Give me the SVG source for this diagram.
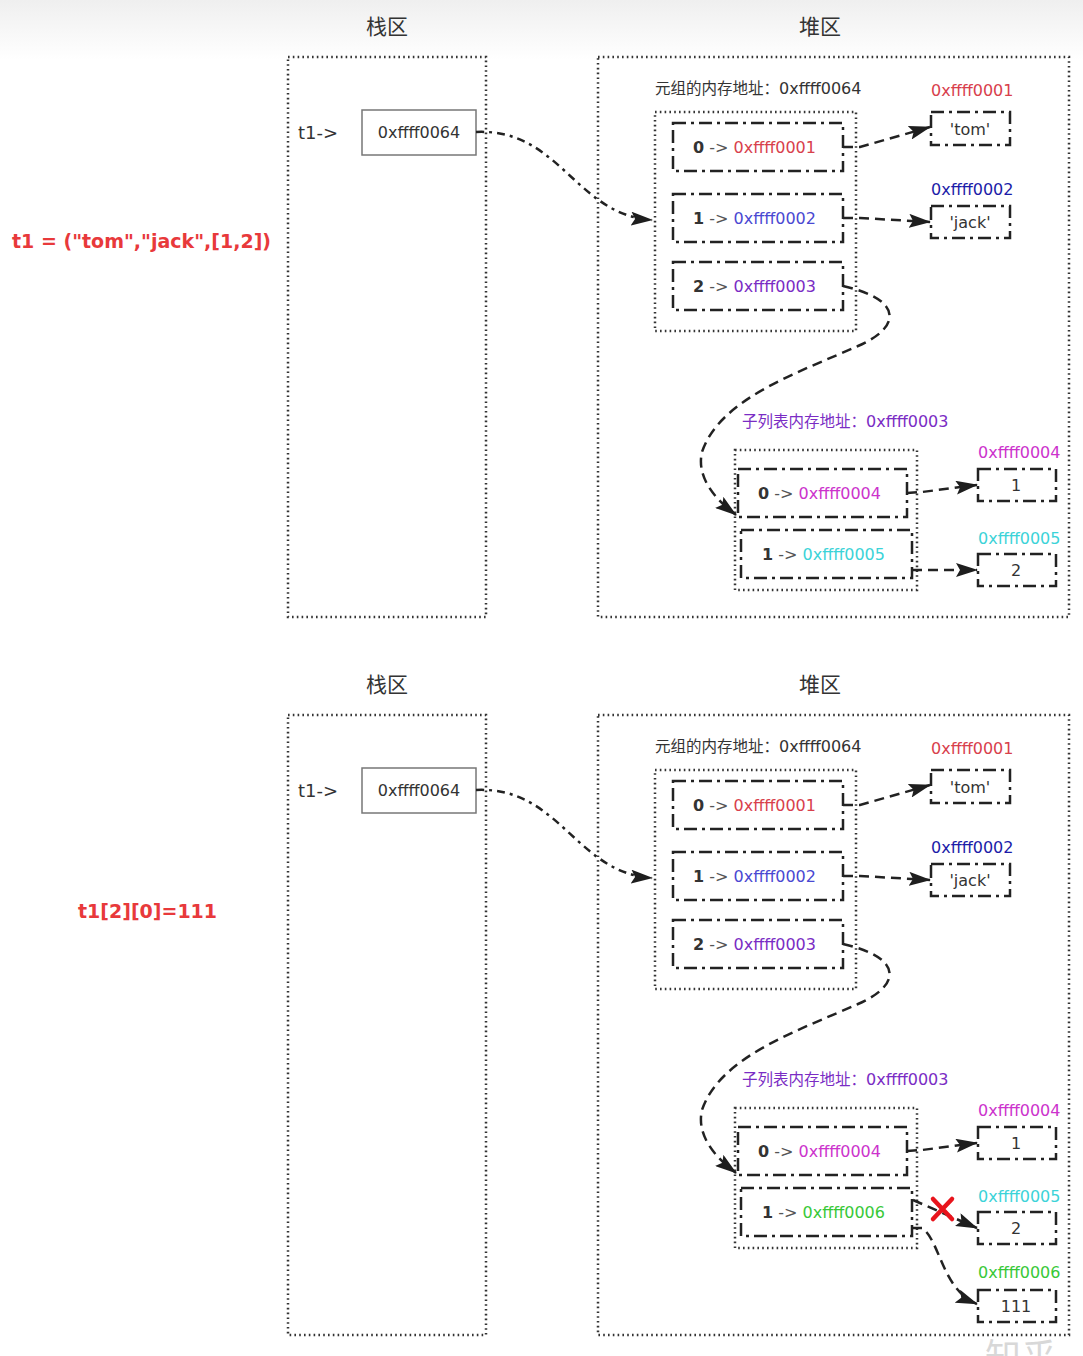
<svg xmlns="http://www.w3.org/2000/svg" width="1083" height="1356" viewBox="0 0 1083 1356">
  <defs>
    <linearGradient id="topShade" x1="0" y1="0" x2="0" y2="1">
      <stop offset="0" stop-color="#efefef"/>
      <stop offset="1" stop-color="#ffffff"/>
    </linearGradient>
    <marker id="arr" viewBox="0 0 22 14" refX="21" refY="7" markerWidth="22" markerHeight="14" markerUnits="userSpaceOnUse" orient="auto">
      <path d="M0,0 L22,7 L0,14 L4,7 Z" fill="#1e1e1e"/>
    </marker>
    <style>
      .title { font-family: "Noto Sans CJK SC", "Noto Sans", sans-serif; font-size: 21px; fill: #333; text-anchor: middle; }
      .area { fill: none; stroke: #333; stroke-width: 2.5; stroke-dasharray: 1.6 3.2; }
      .group { fill: none; stroke: #333; stroke-width: 2.5; stroke-dasharray: 1.6 3.2; }
      .cell { fill: none; stroke: #222; stroke-width: 2.5; stroke-dasharray: 13 5 3 5; }
      .val { fill: none; stroke: #222; stroke-width: 2.5; stroke-dasharray: 13 5 3 5; }
      .solid { fill: #fff; stroke: #777; stroke-width: 1.5; }
      .t { font-family: "DejaVu Sans", "Noto Sans CJK SC", sans-serif; font-size: 16px; fill: #333; }
      .cap { font-family: "DejaVu Sans", "Noto Sans CJK SC", sans-serif; font-size: 16px; fill: #333; }
      .cjk { font-family: "Noto Sans CJK SC", sans-serif; font-size: 15.5px; }
      .idx { font-weight: bold; fill: #333; }
      .op { fill: #555; }
      .code { font-family: "DejaVu Sans", "Liberation Sans", sans-serif; font-size: 19px; font-weight: bold; fill: #e8393b; }
      .link { fill: none; stroke: #222; stroke-width: 2.5; stroke-dasharray: 10 6; marker-end: url(#arr); }
      .linkdd { fill: none; stroke: #222; stroke-width: 2.5; stroke-dasharray: 8 5 3 5; marker-end: url(#arr); }
      .red { fill: #d8404c; }
      .navy { fill: #1c1ca8; }
      .blue { fill: #4a48d2; }
      .purple { fill: #7a2cc4; }
      .magenta { fill: #cc33cc; }
      .cyan { fill: #3cd3d8; }
      .green { fill: #38c838; }
    </style>
  </defs>

  <rect x="0" y="0" width="1083" height="1356" fill="#fff"/>
  <rect x="0" y="0" width="1083" height="60" fill="url(#topShade)"/>

  <!-- ===== state 1: t1 = ("tom","jack",[1,2]) ===== -->
  <g id="state1">
    <g id="code1"><text class="code" x="12" y="248">t1 = ("tom","jack",[1,2])</text></g>

    <g id="stack1">
      <text class="title" x="387" y="34">栈区</text>
      <rect class="area" x="288" y="57" width="198" height="560"/>
      <text class="t" x="298" y="139" style="font-size:18px">t1-&gt;</text>
    </g>
    <g id="ref1">
      <rect class="solid" x="362" y="110" width="114" height="45"/>
      <text class="t" x="419" y="138" text-anchor="middle">0xffff0064</text>
    </g>

    <g id="heap1">
      <text class="title" x="820" y="34">堆区</text>
      <rect class="area" x="598" y="57" width="471" height="560"/>
    </g>

    <g id="tuple1">
      <text class="cap" x="655" y="94"><tspan class="cjk">元组的内存地址：</tspan>0xffff0064</text>
      <rect class="group" x="655" y="112" width="201" height="219"/>
      <g id="tuple1-0">
        <rect class="cell" x="673" y="123" width="170" height="48"/>
        <text class="t" x="693" y="153"><tspan class="idx">0</tspan><tspan class="op"> -&gt; </tspan><tspan class="red">0xffff0001</tspan></text>
      </g>
      <g id="tuple1-1">
        <rect class="cell" x="673" y="194" width="170" height="48"/>
        <text class="t" x="693" y="224"><tspan class="idx">1</tspan><tspan class="op"> -&gt; </tspan><tspan class="blue">0xffff0002</tspan></text>
      </g>
      <g id="tuple1-2">
        <rect class="cell" x="673" y="262" width="170" height="48"/>
        <text class="t" x="693" y="292"><tspan class="idx">2</tspan><tspan class="op"> -&gt; </tspan><tspan class="purple">0xffff0003</tspan></text>
      </g>
    </g>

    <g id="tom1">
      <text class="t red" x="931" y="96">0xffff0001</text>
      <rect class="val" x="931" y="112" width="79" height="33"/>
      <text class="t" x="970" y="135" text-anchor="middle">'tom'</text>
    </g>
    <g id="jack1">
      <text class="t navy" x="931" y="195">0xffff0002</text>
      <rect class="val" x="931" y="206" width="79" height="32"/>
      <text class="t" x="970" y="228" text-anchor="middle">'jack'</text>
    </g>

    <g id="sub1">
      <text class="cap" x="742" y="427" style="fill:#7a2cc4"><tspan class="cjk">子列表内存地址：</tspan>0xffff0003</text>
      <rect class="group" x="735" y="450" width="182" height="140"/>
      <g id="sub1-0">
        <rect class="cell" x="738" y="469" width="169" height="48"/>
        <text class="t" x="758" y="499"><tspan class="idx">0</tspan><tspan class="op"> -&gt; </tspan><tspan class="magenta">0xffff0004</tspan></text>
      </g>
      <g id="sub1-1">
        <rect class="cell" x="741" y="530" width="171" height="48"/>
        <text class="t" x="762" y="560"><tspan class="idx">1</tspan><tspan class="op"> -&gt; </tspan><tspan class="cyan">0xffff0005</tspan></text>
      </g>
    </g>

    <g id="one1">
      <text class="t magenta" x="978" y="458">0xffff0004</text>
      <rect class="val" x="978" y="469" width="78" height="32"/>
      <text class="t" x="1016" y="491" text-anchor="middle">1</text>
    </g>
    <g id="two1">
      <text class="t cyan" x="978" y="544">0xffff0005</text>
      <rect class="val" x="978" y="554" width="78" height="32"/>
      <text class="t" x="1016" y="576" text-anchor="middle">2</text>
    </g>

    <g id="links1">
      <path class="linkdd" d="M476,132 C560,128 575,215 652,220"/>
      <path class="link" d="M843,147 L860,147 L930,127"/>
      <path class="link" d="M843,218 L860,218 L930,222"/>
      <path class="link" d="M843,286 C905,300 900,328 858,346 C800,372 720,398 702,452 C696,478 716,500 736,515"/>
      <path class="link" d="M907,493 L922,492 L977,485"/>
      <path class="link" d="M912,570 L977,570"/>
    </g>
  </g>

  <!-- ===== state 2: t1[2][0]=111 ===== -->
  <g id="state2">
    <g id="code2"><text class="code" x="78" y="918">t1[2][0]=111</text></g>

    <g id="stack2">
      <text class="title" x="387" y="692">栈区</text>
      <rect class="area" x="288" y="715" width="198" height="620"/>
      <text class="t" x="298" y="797" style="font-size:18px">t1-&gt;</text>
    </g>
    <g id="ref2">
      <rect class="solid" x="362" y="768" width="114" height="45"/>
      <text class="t" x="419" y="796" text-anchor="middle">0xffff0064</text>
    </g>

    <g id="heap2">
      <text class="title" x="820" y="692">堆区</text>
      <rect class="area" x="598" y="715" width="471" height="620"/>
    </g>

    <g id="tuple2">
      <text class="cap" x="655" y="752"><tspan class="cjk">元组的内存地址：</tspan>0xffff0064</text>
      <rect class="group" x="655" y="770" width="201" height="219"/>
      <g id="tuple2-0">
        <rect class="cell" x="673" y="781" width="170" height="48"/>
        <text class="t" x="693" y="811"><tspan class="idx">0</tspan><tspan class="op"> -&gt; </tspan><tspan class="red">0xffff0001</tspan></text>
      </g>
      <g id="tuple2-1">
        <rect class="cell" x="673" y="852" width="170" height="48"/>
        <text class="t" x="693" y="882"><tspan class="idx">1</tspan><tspan class="op"> -&gt; </tspan><tspan class="blue">0xffff0002</tspan></text>
      </g>
      <g id="tuple2-2">
        <rect class="cell" x="673" y="920" width="170" height="48"/>
        <text class="t" x="693" y="950"><tspan class="idx">2</tspan><tspan class="op"> -&gt; </tspan><tspan class="purple">0xffff0003</tspan></text>
      </g>
    </g>

    <g id="tom2">
      <text class="t red" x="931" y="754">0xffff0001</text>
      <rect class="val" x="931" y="770" width="79" height="33"/>
      <text class="t" x="970" y="793" text-anchor="middle">'tom'</text>
    </g>
    <g id="jack2">
      <text class="t navy" x="931" y="853">0xffff0002</text>
      <rect class="val" x="931" y="864" width="79" height="32"/>
      <text class="t" x="970" y="886" text-anchor="middle">'jack'</text>
    </g>

    <g id="sub2">
      <text class="cap" x="742" y="1085" style="fill:#7a2cc4"><tspan class="cjk">子列表内存地址：</tspan>0xffff0003</text>
      <rect class="group" x="735" y="1108" width="182" height="140"/>
      <g id="sub2-0">
        <rect class="cell" x="738" y="1127" width="169" height="48"/>
        <text class="t" x="758" y="1157"><tspan class="idx">0</tspan><tspan class="op"> -&gt; </tspan><tspan class="magenta">0xffff0004</tspan></text>
      </g>
      <g id="sub2-1">
        <rect class="cell" x="741" y="1188" width="171" height="48"/>
        <text class="t" x="762" y="1218"><tspan class="idx">1</tspan><tspan class="op"> -&gt; </tspan><tspan class="green">0xffff0006</tspan></text>
      </g>
    </g>

    <g id="one2">
      <text class="t magenta" x="978" y="1116">0xffff0004</text>
      <rect class="val" x="978" y="1127" width="78" height="32"/>
      <text class="t" x="1016" y="1149" text-anchor="middle">1</text>
    </g>
    <g id="two2">
      <text class="t cyan" x="978" y="1202">0xffff0005</text>
      <rect class="val" x="978" y="1212" width="78" height="32"/>
      <text class="t" x="1016" y="1234" text-anchor="middle">2</text>
    </g>
    <g id="new2">
      <text class="t green" x="978" y="1278">0xffff0006</text>
      <rect class="val" x="978" y="1290" width="78" height="32"/>
      <text class="t" x="1016" y="1312" text-anchor="middle">111</text>
    </g>

    <g id="links2">
      <path class="linkdd" d="M476,790 C560,786 575,873 652,878"/>
      <path class="link" d="M843,805 L860,805 L930,785"/>
      <path class="link" d="M843,876 L860,876 L930,880"/>
      <path class="link" d="M843,944 C905,958 900,986 858,1004 C800,1030 720,1056 702,1110 C696,1136 716,1158 736,1173"/>
      <path class="link" d="M907,1151 L922,1150 L977,1143"/>
      <path class="link" d="M913,1200 L977,1228"/>
      <path class="link" d="M912,1228 L922,1228 C940,1240 942,1290 977,1304"/>
    </g>

    <g id="cut">
      <path d="M933,1199 L952,1219 M952,1199 L933,1219" stroke="#e8141c" stroke-width="4.5" stroke-linecap="round" fill="none"/>
    </g>
  </g>

  <!-- site mark in the lower-right corner -->
  <text x="985" y="1370" font-family="Noto Sans CJK SC, sans-serif" font-size="36" fill="#d8d8d8">知乎</text>
</svg>
